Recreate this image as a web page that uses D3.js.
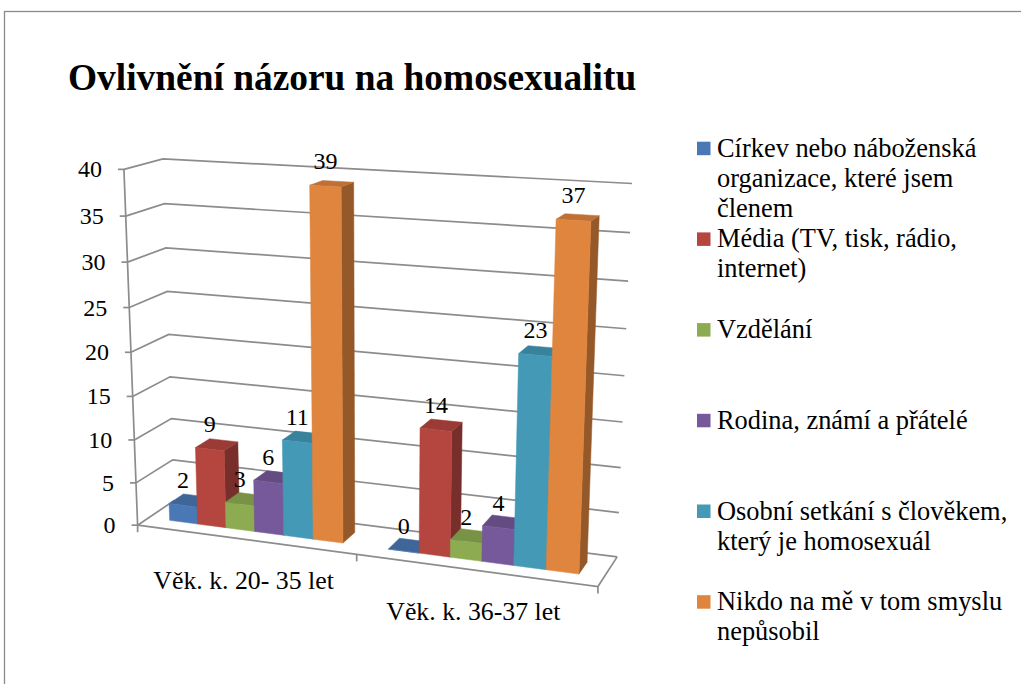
<!DOCTYPE html>
<html><head><meta charset="utf-8">
<script src="https://cdn.jsdelivr.net/npm/d3@7"></script>
<style>body{margin:0;background:#fff}svg{display:block}
text{font-family:"Liberation Serif","Times New Roman",serif}</style>
</head><body>
<script>
// ---------------- data ----------------
const categories = ["Věk. k. 20- 35 let", "Věk. k. 36-37 let"];
const seriesNames = [
  "Církev nebo náboženská organizace, které jsem členem",
  "Média (TV, tisk, rádio, internet)",
  "Vzdělání",
  "Rodina, známí a přátelé",
  "Osobní setkání s člověkem, který je homosexuál",
  "Nikdo na mě v tom smyslu nepůsobil"
];
const legendLines = [
  ["Církev nebo náboženská", "organizace, které jsem", "členem"],
  ["Média (TV, tisk, rádio,", "internet)"],
  ["Vzdělání"],
  ["Rodina, známí a přátelé"],
  ["Osobní setkání s člověkem,", "který je homosexuál"],
  ["Nikdo na mě v tom smyslu", "nepůsobil"]
];
const cirkev   = [2, 0];
const media    = [9, 14];
const vzdelani = [3, 2];
const rodina   = [6, 4];
const osobni   = [11, 23];
const nikdo    = [39, 37];
const seriesValues = [cirkev, media, vzdelani, rodina, osobni, nikdo];
const yTicks = [0, 5, 10, 15, 20, 25, 30, 35, 40];
const colors = ["#4a78b4", "#b5453f", "#8dac52", "#75599a", "#4399b6", "#e0853e"];
const title = "Ovlivnění názoru na homosexualitu";

// ---------------- layout: where the 3D frame's edges sit on the page ----------------
// [value, px, py] along the front-left axis, back-left corner, back-right corner
const frontLeftAxis = [[40,125,170],[35,126.3,216],[30,127.5,261.7],[25,129,306.7],[20,130.5,352.7],[15,132,396.7],[10,133.5,440],[5,135,483.3],[0,138.5,524]];
const backLeftEdge  = [[40,162.7,159],[35,164,203.3],[30,165.7,248.3],[25,167.3,291.7],[15,170,376.7],[10,171.7,419.3],[5,173.3,459.3]];
const backRightEdge = [[40,631.7,183.3],[35,630,232.7],[30,628.3,281],[25,626.7,328.3],[20,624.3,375.7],[15,622.7,422.3],[10,620.7,467.7],[5,619,512.7],[0,616.7,556.7]];
const floorFront    = [[1,358,555],[2,597.3,586.7]]; // [category position, px, py]

const W = 1021, H = 684;
const svg = d3.select("body").append("svg").attr("width", W).attr("height", H);

// world scales (x: category units, y: value -> 0..1, z: depth 0 front .. 1 back)
const xCat = d3.scaleBand().domain(categories).range([0, categories.length]);
const xSer = d3.scaleBand().domain(d3.range(seriesNames.length)).range([0, 1]).paddingInner(0).paddingOuter(0.75);
const yVal = d3.scaleLinear().domain([0, 40]).range([0, 1]);
const zBar = d3.scaleLinear().domain([0, 1]).range([0.3, 0.7]);
const xMax = categories.length;

// fit a perspective camera (3x4 projective matrix) to the frame layout
function fitCamera(pts) {
  const cx = 400, cy = 400, s = 300, n = 11;
  const A = Array.from({length: n}, () => new Array(n + 1).fill(0));
  const addRow = (r, b) => {
    for (let i = 0; i < n; i++) { for (let j = 0; j < n; j++) A[i][j] += r[i] * r[j]; A[i][n] += r[i] * b; }
  };
  pts.forEach(([X, Y, Z, u, v]) => {
    const un = (u - cx) / s, vn = (v - cy) / s;
    addRow([X, Y, Z, 1, 0, 0, 0, 0, -un * X, -un * Y, -un * Z], un);
    addRow([0, 0, 0, 0, X, Y, Z, 1, -vn * X, -vn * Y, -vn * Z], vn);
  });
  for (let c = 0; c < n; c++) {
    let piv = c;
    for (let r = c + 1; r < n; r++) if (Math.abs(A[r][c]) > Math.abs(A[piv][c])) piv = r;
    [A[c], A[piv]] = [A[piv], A[c]];
    for (let r = 0; r < n; r++) {
      if (r === c) continue;
      const f = A[r][c] / A[c][c];
      for (let k = c; k <= n; k++) A[r][k] -= f * A[c][k];
    }
  }
  const p = A.map((row, i) => row[n] / row[i]);
  return (X, Y, Z) => {
    const w = p[8] * X + p[9] * Y + p[10] * Z + 1;
    return [(p[0] * X + p[1] * Y + p[2] * Z + p[3]) / w * s + cx,
            (p[4] * X + p[5] * Y + p[6] * Z + p[7]) / w * s + cy];
  };
}
const anchors = [];
frontLeftAxis.forEach(([v, u, w]) => anchors.push([0, yVal(v), 0, u, w]));
backLeftEdge.forEach(([v, u, w]) => anchors.push([0, yVal(v), 1, u, w]));
backRightEdge.forEach(([v, u, w]) => anchors.push([xMax, yVal(v), 1, u, w]));
floorFront.forEach(([x, u, w]) => anchors.push([x, 0, 0, u, w]));
const P = fitCamera(anchors);
const proj = (X, v, Z) => P(X, yVal(v), Z);

// ---------------- frame ----------------
svg.append("rect").attr("x", 4.5).attr("y", 11.5).attr("width", 1100).attr("height", 800)
  .attr("fill", "none").attr("stroke", "#8a8a8a").attr("stroke-width", 1.3);

svg.append("text").attr("x", 68).attr("y", 90).text(title)
  .attr("font-weight", "bold").attr("font-size", 37.4).attr("fill", "#000");

const line = d3.line();
const gridG = svg.append("g").attr("fill", "none").attr("stroke", "#8c8c8c").attr("stroke-width", 1.7);
yTicks.forEach(v => {
  gridG.append("path").attr("d", line([proj(0, v, 0), proj(0, v, 1), proj(xMax, v, 1)]));
});
// floor front & right edges, axis line
gridG.append("path").attr("d", line([proj(0, 0, 0), proj(xMax, 0, 0), proj(xMax, 0, 1)]));
gridG.append("path").attr("d", line([proj(0, 0, 0), proj(0, 40, 0)]));
// value ticks
yTicks.forEach(v => {
  const [x, y] = proj(0, v, 0);
  gridG.append("path").attr("d", line([[x - 6, y], [x, y]]));
});
// category ticks
d3.range(xMax + 1).forEach(i => {
  const [x, y] = proj(i, 0, 0);
  gridG.append("path").attr("d", line([[x, y], [x, y + 7]]));
});

// value tick labels
svg.append("g").selectAll("text").data(yTicks).join("text")
  .attr("x", d => proj(0, d, 0)[0] - 22).attr("y", d => proj(0, d, 0)[1] + 8)
  .attr("text-anchor", "end").attr("font-size", 24).text(d => d);

// category labels
svg.append("g").selectAll("text").data(categories).join("text")
  .attr("x", d => proj(xCat(d) + xCat.bandwidth() / 2, 0, 0)[0] - 1)
  .attr("y", d => proj(xCat(d) + xCat.bandwidth() / 2, 0, 0)[1] + 50)
  .attr("text-anchor", "middle").attr("font-size", 25.8).text(d => d);

// ---------------- bars ----------------
const barsG = svg.append("g");
const labelsG = svg.append("g");
categories.forEach((cat, ci) => {
  seriesValues.forEach((vals, si) => {
    const v = vals[ci];
    const x0 = xCat(cat) + xSer(si), x1 = x0 + xSer.bandwidth();
    const z0 = zBar(0), z1 = zBar(1);
    const base = d3.color(colors[si]);
    const faces = [
      {pts: [[x1, 0, z0], [x1, 0, z1], [x1, v, z1], [x1, v, z0]], c: base.darker(1.15)},
      {pts: [[x0, v, z0], [x1, v, z0], [x1, v, z1], [x0, v, z1]], c: base.darker(0.45)},
      {pts: [[x0, 0, z0], [x1, 0, z0], [x1, v, z0], [x0, v, z0]], c: base}
    ];
    faces.forEach(f => {
      barsG.append("path").attr("d", line(f.pts.map(p => proj(...p))) + "Z")
        .attr("fill", f.c).attr("stroke", f.c).attr("stroke-width", 0.5);
    });
    const [lx, ly] = proj((x0 + x1) / 2, v, z0);
    labelsG.append("text").attr("x", lx).attr("y", ly - 17).attr("text-anchor", "middle")
      .attr("font-size", 24).text(v);
  });
});

// ---------------- legend ----------------
const legG = svg.append("g");
legendLines.forEach((lines, i) => {
  const by = 156.7 + i * 90.7;
  legG.append("rect").attr("x", 697).attr("y", by - 15).attr("width", 13.5).attr("height", 13.5).attr("fill", colors[i]);
  lines.forEach((t, k) => {
    legG.append("text").attr("x", 717).attr("y", by + k * 30).attr("font-size", 26.4).text(t);
  });
});
</script>
</body></html>
